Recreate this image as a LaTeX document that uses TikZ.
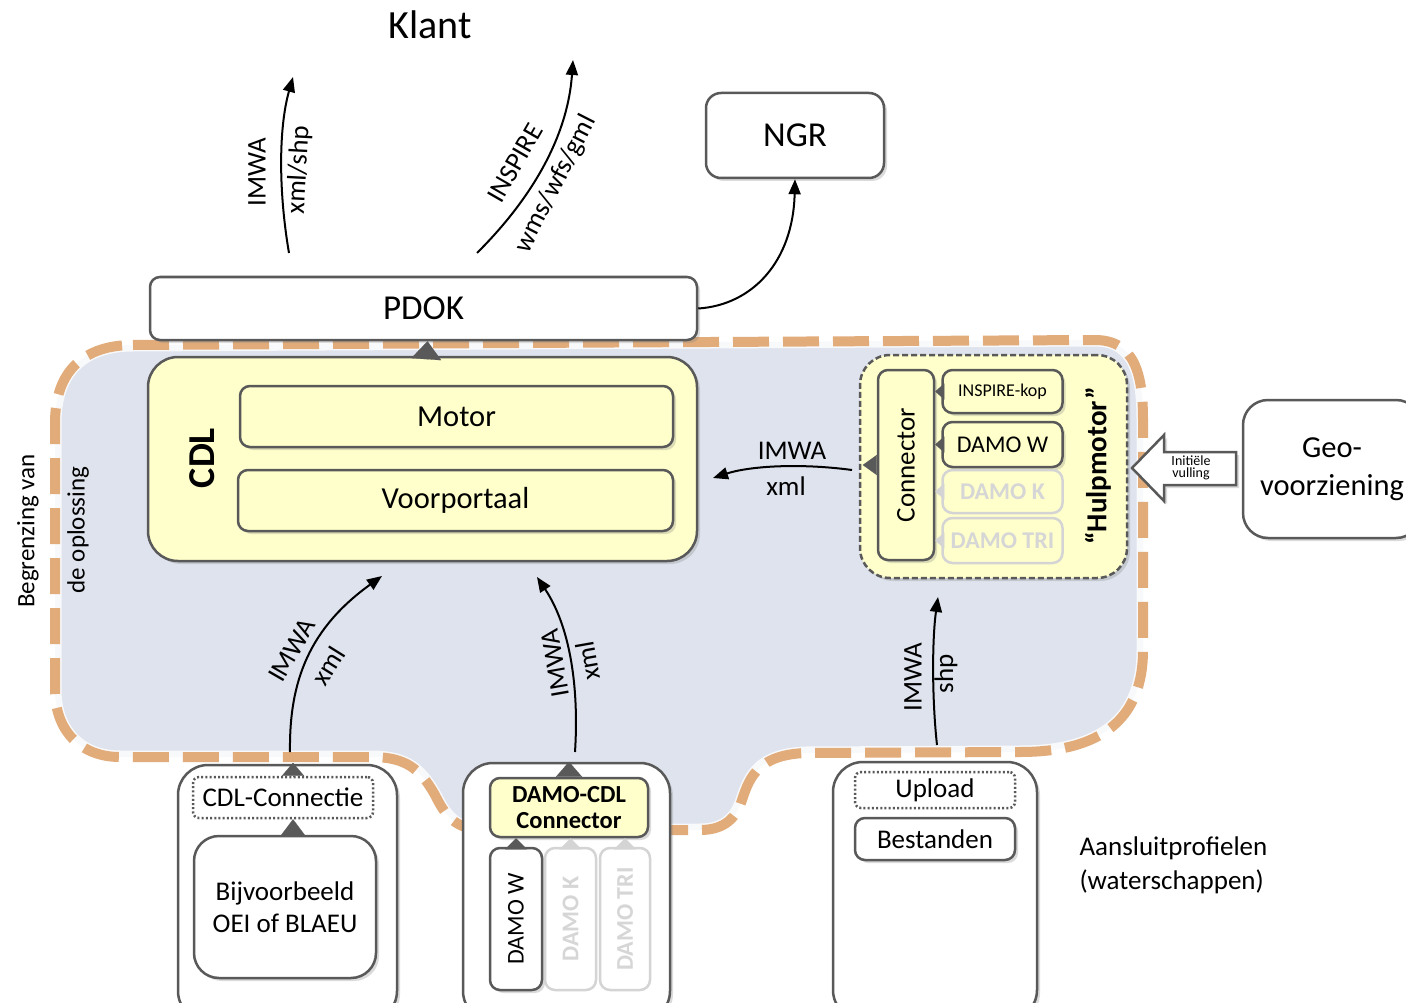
\documentclass[tikz,border=0pt]{standalone}
\usepackage{fontspec}
\setmainfont{Carlito}
\usetikzlibrary{arrows.meta,shadows,calc}
\definecolor{bndfill}{RGB}{222,227,237}
\definecolor{bnddash}{RGB}{226,172,122}
\definecolor{ylw}{RGB}{255,255,204}
\definecolor{bord}{RGB}{89,89,89}
\definecolor{fade}{RGB}{212,212,212}
\definecolor{fadetxt}{RGB}{214,214,214}
\tikzset{
 fA/.style={font=\fontsize{40}{46}\selectfont},
 fB/.style={font=\fontsize{35}{40}\selectfont},
 fC/.style={font=\fontsize{30.5}{38}\selectfont},
 fD/.style={font=\fontsize{27}{32}\selectfont},
 fDa/.style={font=\fontsize{27}{34}\selectfont},
 fE/.style={font=\fontsize{25}{30}\selectfont},
 fF/.style={font=\fontsize{24}{28}\selectfont},
 fG/.style={font=\fontsize{18}{21}\selectfont},
 fH/.style={font=\fontsize{14}{12}\selectfont},
 fCDL/.style={font=\fontsize{38}{44}\selectfont\bfseries},
 fHulp/.style={font=\fontsize{29}{34}\selectfont\bfseries},
 fDC/.style={font=\fontsize{24.5}{26}\selectfont\bfseries},
 fFb/.style={font=\fontsize{24}{28}\selectfont\bfseries},
 shad/.style={drop shadow={opacity=0.28,shadow xshift=3pt,shadow yshift=-3pt}},
 bx/.style={draw=bord, line width=2.5pt, fill=white, rounded corners=10pt, inner sep=0pt, shad},
 ybx/.style={bx, fill=ylw},
 fbx/.style={draw=fade, line width=2.5pt, fill=#1, rounded corners=10pt, inner sep=0pt, text=fadetxt},
 dotbx/.style={draw=bord, line width=2.5pt, fill=white, rounded corners=6pt, inner sep=0pt, dash pattern=on 2pt off 2.2pt},
 conn/.style={line width=2pt, -{Triangle[length=15pt,width=12pt]}},
 tipD/.style 2 args={draw=bord, fill=bord, line width=0.1pt, -{Triangle[length=#1,width=#2]}},
 tipF/.style 2 args={draw=fade, fill=fade, line width=0.1pt, -{Triangle[length=#1,width=#2]}},
}
\begin{document}
\begin{tikzpicture}[x=1pt,y=-1pt]
\useasboundingbox (0,0) rectangle (1406,1003);
\clip (0,0) rectangle (1406,1003);
\fill[white] (0,0) rectangle (1406,1003);

% boundary of the solution
\path[fill=bndfill,
  postaction={draw=white, line width=13pt, opacity=0.8},
  postaction={draw=bnddash, line width=10pt, dash pattern=on 36pt off 14pt}]
  (133,345) -- (1095,340) .. controls (1135,340) and (1143,375) .. (1143,420)
  -- (1143,650) .. controls (1143,720) and (1100,752) .. (1020,752)
  -- (805,753) .. controls (760,755) and (750,775) .. (742,800)
  .. controls (735,822) and (720,830) .. (700,830)
  -- (485,830) .. controls (455,830) and (445,815) .. (435,795)
  .. controls (420,768) and (405,758) .. (375,757)
  -- (120,757) .. controls (80,757) and (55,730) .. (55,690)
  -- (55,423) .. controls (55,370) and (85,345) .. (133,345) -- cycle;

\node[fE, rotate=90] (begr1) at (28,531) {Begrenzing van};
\node[fE, rotate=90] (begr2) at (78,530) {de oplossing};

% top
\node[fA] (klant) at (430,25) {Klant};
\node[bx, minimum width=547pt, minimum height=63pt, fB] (pdok) at (423.5,308.5) {PDOK};
\node[bx, rounded corners=15pt, minimum width=178pt, minimum height=85pt, fB] (ngr) at (795,135.5) {NGR};

% CDL
\node[ybx, rounded corners=30pt, minimum width=549pt, minimum height=204pt] (cdl) at (422.5,459) {};
\node[fCDL, rotate=90] (cdltxt) at (202,458) {CDL};
\node[ybx, minimum width=433pt, minimum height=61pt, fC] (motor) at (456.5,416.5) {Motor};
\node[ybx, minimum width=435pt, minimum height=61pt, fC] (voor) at (455.5,500.5) {Voorportaal};
\draw[tipD={18pt}{30pt}] ($(cdl.north)+(4,0)$) -- ($(pdok.south)+(4,0)$);

% arrows to Klant and NGR
\coordinate (a1s) at (289,253);
\coordinate (a1e) at (293,77);
\draw[conn] (a1s) .. controls (279,195) and (278,130) .. (a1e);
\node[fD, rotate=90] (l1a) at (257,172) {IMWA};
\node[fD, rotate=87] (l1b) at (299,170) {xml/shp};
\coordinate (a2s) at (477,253);
\coordinate (a2e) at (573,60);
\draw[conn] (a2s) .. controls (502,228) and (566,160) .. (a2e);
\node[fD, rotate=60] (l2a) at (515,163) {INSPIRE};
\node[fD, rotate=63] (l2b) at (556,184) {wms/wfs/gml};
\draw[conn] (pdok.east) .. controls (752,305) and (793,262) .. (ngr.south);

% Hulpmotor
\node[draw=bord, line width=2.5pt, dash pattern=on 6pt off 3pt, fill=ylw, rounded corners=30pt,
  minimum width=267pt, minimum height=223pt, shad] (hulp) at (993.5,466.5) {};
\node[fHulp, rotate=90] (hulptxt) at (1098,466) {“Hulpmotor”};
\node[ybx, minimum width=56pt, minimum height=190pt] (conn) at (906,465) {};
\node[fD, rotate=90] (conntxt) at (conn.center) {Connector};
\node[ybx, minimum width=120pt, minimum height=43pt, fG] (ik) at (1002.5,391.5) {INSPIRE-kop};
\node[ybx, minimum width=120pt, minimum height=45pt, fF] (dw) at (1002.5,444.5) {DAMO W};
\node[fbx=ylw, minimum width=120pt, minimum height=43pt, fFb] (dk) at (1002.5,491.5) {DAMO K};
\node[fbx=ylw, minimum width=120pt, minimum height=45pt, fFb] (dt) at (1002.5,540.5) {DAMO TRI};
\draw[tipD={9pt}{16pt}] (ik.west) -- (conn.east |- ik.west);
\draw[tipD={9pt}{16pt}] (dw.west) -- (conn.east |- dw.west);
\draw[tipF={9pt}{16pt}] (dk.west) -- (conn.east |- dk.west);
\draw[tipF={9pt}{16pt}] (dt.west) -- (conn.east |- dt.west);
\draw[tipD={14pt}{20pt}] (conn.west) -- ++(-14,0) coordinate (connout);

\coordinate (h1) at (852,470);
\coordinate (h2) at (713,478);
\draw[conn] (h1) .. controls (800,463) and (750,466) .. (h2);
\node[fD] (l3a) at (792,451) {IMWA};
\node[fD] (l3b) at (786,486) {xml};

% Geo-voorziening
\node[bx, rounded corners=25pt, minimum width=178pt, minimum height=138pt, fC, align=center] (geo) at (1332,469) {Geo-\\voorziening};
\path[draw=bord, line width=2.5pt, fill=white, shad, line join=miter]
  (1236,452) -- (1164,452) -- (1164,435) -- (1132,468) -- (1164,501) -- (1164,485) -- (1236,485) -- cycle;
\node[fH, align=center, inner sep=0pt] (initxt) at (1191,468) {Initiële\\vulling};

% bottom left
\node[bx, rounded corners=30pt, minimum width=219pt, minimum height=256pt] (bl) at (287.5,893) {};
\node[dotbx, minimum width=180pt, minimum height=41pt, fD] (cdlc) at (283,797.5) {CDL-Connectie};
\node[bx, rounded corners=25pt, minimum width=182pt, minimum height=142pt, fD, align=center] (bijv) at (285,907) {Bijvoorbeeld\\OEI of BLAEU};
\draw[tipD={13pt}{22pt}] ($(cdlc.north)+(10,0)$) -- ($(cdlc.north)+(10,-13)$);
\draw[tipD={16pt}{24pt}] ($(bijv.north)+(8,0)$) -- ($(cdlc.south)+(10,0)$);
\coordinate (b1s) at (290,752);
\coordinate (b1e) at (382,576);
\draw[conn] (b1s) .. controls (289,680) and (310,628) .. (b1e);
\node[fD, rotate=60] (l4a) at (292,650) {IMWA};
\node[fD, rotate=58] (l4b) at (328,666) {xml};

% bottom middle
\node[bx, rounded corners=30pt, minimum width=207pt, minimum height=258pt] (bm) at (566.5,892) {};
\node[ybx, minimum width=158pt, minimum height=59pt, fDC, align=center] (dcdl) at (569,807.5) {DAMO-CDL\\Connector};
\draw[tipD={15pt}{26pt}] (dcdl.north) -- (dcdl.north |- bm.north);
\node[bx, minimum width=52pt, minimum height=142pt] (bdw) at (516,919) {};
\node[fF, rotate=90] (bdwt) at (bdw.center) {DAMO W};
\node[fbx=white, minimum width=51pt, minimum height=142pt] (bdk) at (570.5,919) {};
\node[fFb, rotate=90, text=fadetxt] (bdkt) at (bdk.center) {DAMO K};
\node[fbx=white, minimum width=50pt, minimum height=142pt] (bdt) at (625,919) {};
\node[fFb, rotate=90, text=fadetxt] (bdtt) at (bdt.center) {DAMO TRI};
\draw[tipF={11pt}{22pt}] (bdk.north) -- (bdk.north |- dcdl.south);
\draw[tipF={11pt}{22pt}] (bdt.north) -- (bdt.north |- dcdl.south);
\draw[tipD={11pt}{22pt}] (bdw.north) -- (bdw.north |- dcdl.south);
\coordinate (b2s) at (575,752);
\coordinate (b2e) at (537,577);
\draw[conn] (b2s) .. controls (579,690) and (571,628) .. (b2e);
\node[fD, rotate=100] (l5a) at (555,663) {IMWA};
\node[fD, rotate=100] (l5b) at (588,661) {xml};

% bottom right
\node[bx, rounded corners=30pt, minimum width=204pt, minimum height=258pt] (br) at (935,891) {};
\node[dotbx, minimum width=160pt, minimum height=36pt, fD] (upl) at (935,790) {Upload};
\node[bx, minimum width=160pt, minimum height=42pt, fD] (best) at (935,839) {Bestanden};
\coordinate (b3s) at (937,745);
\coordinate (b3e) at (938,597);
\draw[conn] (b3s) .. controls (932,700) and (932,640) .. (b3e);
\node[fD, rotate=90] (l6a) at (913,677) {IMWA};
\node[fD, rotate=90] (l6b) at (946,674) {shp};

\node[fDa, align=left, anchor=west] (aans) at (1076,865) {Aansluitprofielen\\(waterschappen)};
\end{tikzpicture}
\end{document}
